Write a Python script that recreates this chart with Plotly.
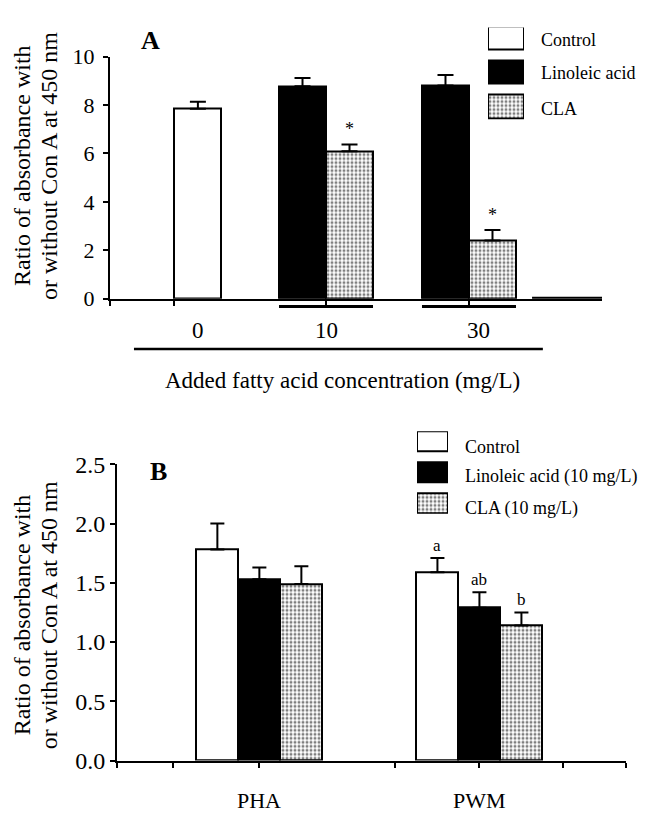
import plotly.graph_objects as go

# ---------------- data ----------------
# Panel A: concentration of added fatty acid (mg/L)
conc_labels = ["0", "10", "30"]
control_A = [7.85]
control_A_err = [0.28]
linoleic_A = [8.77, 8.81]
linoleic_A_err = [0.35, 0.43]
cla_A = [6.09, 2.40]
cla_A_err = [0.28, 0.44]
sig_A = ["*", "*"]
legend_A = ["Control", "Linoleic acid", "CLA"]

# Panel B: mitogens
mitogens = ["PHA", "PWM"]
control_B = [1.78, 1.59]
control_B_err = [0.22, 0.12]
linoleic_B = [1.53, 1.29]
linoleic_B_err = [0.10, 0.13]
cla_B = [1.49, 1.14]
cla_B_err = [0.15, 0.11]
letters_PWM = ["a", "ab", "b"]
legend_B = ["Control", "Linoleic acid (10 mg/L)", "CLA (10 mg/L)"]

y_title = ["Ratio of absorbance with", "or without Con A at 450 nm"]
x_title_A = "Added fatty acid concentration (mg/L)"

# ---------------- layout helpers ----------------
W, H = 645, 823
FONT = "Liberation Serif"


def px(x):
    return x / W


def py(y):
    return 1 - y / H


def marker(kind):
    line = dict(color="black", width=2)
    if kind == "control":
        return dict(color="white", line=line)
    if kind == "linoleic":
        return dict(color="black", line=line)
    return dict(color="white", line=line,
                pattern=dict(shape=".", fgcolor="black", bgcolor="white",
                             size=4, solidity=0.45))


def err(vals, w):
    return dict(type="data", array=vals, arrayminus=[0] * len(vals),
                symmetric=False, color="black", thickness=2, width=w)


def font(size):
    return dict(family=FONT, size=size, color="black")


# group positions (in bar-width units)
gA = [1.87, 4.596, 7.638]       # groups 0, 10, 30
xA_max = 10.468
gB = [3.39, 8.63]               # PHA, PWM
xB_max = 12.12

fig = go.Figure()

# ---- Panel A bars ----
fig.add_trace(go.Bar(x=[gA[0]], y=control_A, width=1.0, marker=marker("control"),
                     error_y=err(control_A_err, 8), xaxis="x", yaxis="y",
                     showlegend=False, cliponaxis=False))
fig.add_trace(go.Bar(x=[g - 0.5 for g in gA[1:]], y=linoleic_A, width=1.0,
                     marker=marker("linoleic"), error_y=err(linoleic_A_err, 8),
                     xaxis="x", yaxis="y", showlegend=False, cliponaxis=False))
fig.add_trace(go.Bar(x=[g + 0.5 for g in gA[1:]], y=cla_A, width=1.0,
                     marker=marker("cla"), error_y=err(cla_A_err, 8),
                     xaxis="x", yaxis="y", showlegend=False, cliponaxis=False))

# ---- Panel B bars ----
fig.add_trace(go.Bar(x=[g - 1 for g in gB], y=control_B, width=1.0, marker=marker("control"),
                     error_y=err(control_B_err, 7), xaxis="x2", yaxis="y2",
                     showlegend=False, cliponaxis=False))
fig.add_trace(go.Bar(x=gB, y=linoleic_B, width=1.0, marker=marker("linoleic"),
                     error_y=err(linoleic_B_err, 7), xaxis="x2", yaxis="y2",
                     showlegend=False, cliponaxis=False))
fig.add_trace(go.Bar(x=[g + 1 for g in gB], y=cla_B, width=1.0, marker=marker("cla"),
                     error_y=err(cla_B_err, 7), xaxis="x2", yaxis="y2",
                     showlegend=False, cliponaxis=False))

# ---- legend swatches (small hidden axes) ----
kinds = ["control", "linoleic", "cla"]
for i, k in enumerate(kinds):
    fig.add_trace(go.Bar(x=[1], y=[2 - i], base=0, orientation="h", width=0.68,
                         marker=marker(k), xaxis="x3", yaxis="y3",
                         showlegend=False, cliponaxis=False, hoverinfo="skip"))
    fig.add_trace(go.Bar(x=[1], y=[2 - i], base=0, orientation="h", width=0.66,
                         marker=marker(k), xaxis="x4", yaxis="y4",
                         showlegend=False, cliponaxis=False, hoverinfo="skip"))

axis_common = dict(showline=True, linecolor="black", linewidth=2, ticks="outside",
                   tickcolor="black", tickwidth=2, ticklen=5, showgrid=False,
                   zeroline=False, fixedrange=True)

fig.update_layout(
    width=W, height=H, autosize=False,
    margin=dict(l=0, r=0, t=0, b=0),
    paper_bgcolor="white", plot_bgcolor="rgba(0,0,0,0)",
    font=font(18),
    barmode="overlay", bargap=0,
    xaxis=dict(domain=[px(110), px(602)], range=[0, xA_max], anchor="y",
               tickmode="array", tickvals=[0, gA[0] - 0.5, gA[1], gA[2]],
               showticklabels=False, **axis_common),
    yaxis=dict(domain=[py(295), py(45)], range=[0, 10], anchor="x",
               tickmode="linear", tick0=0, dtick=2, tickfont=font(22),
               ticklabelstandoff=4, **axis_common),
    xaxis2=dict(domain=[px(117), px(626)], range=[0, xB_max], anchor="y2",
                tickmode="array",
                tickvals=[0, gB[0] - 2.05, gB[0], gB[1] - 2.0, gB[1], gB[1] + 2.0, xB_max - 0.001],
                showticklabels=False, **axis_common),
    yaxis2=dict(domain=[py(772), py(466)], range=[0, 2.5], anchor="x2",
                tickmode="linear", tick0=0, dtick=0.5, tickformat=".1f",
                tickfont=font(24), ticklabelstandoff=0, **axis_common),
    xaxis3=dict(domain=[px(488), px(524)], range=[0, 1], anchor="y3", visible=False,
                fixedrange=True),
    yaxis3=dict(domain=[py(110), py(15)], range=[-0.38, 2.31], anchor="x3", visible=False,
                fixedrange=True),
    xaxis4=dict(domain=[px(417), px(448)], range=[0, 1], anchor="y4", visible=False,
                fixedrange=True),
    yaxis4=dict(domain=[py(517), py(432)], range=[-0.33, 2.33], anchor="x4", visible=False,
                fixedrange=True),
)

ann = []
shapes = []


def label(text, x, y, size, xref="paper", yref="paper", xanchor="center",
          yanchor="middle", **kw):
    ann.append(dict(text=text, x=x, y=y, xref=xref, yref=yref, xanchor=xanchor,
                    yanchor=yanchor, showarrow=False, font=font(size), **kw))


# panel letters
label("<b>A</b>", px(150), py(28), 26)
label("<b>B</b>", px(158), py(473), 26)

# y-axis titles (two rotated lines per panel)
for yc in (158, 622):
    for line_txt, xc in zip(y_title, (22, 49)):
        label(line_txt, px(xc), py(yc), 24, textangle=-90)

# Panel A category labels and axis title
for lab, g, sh in zip(conc_labels, gA, (0, 0, 10)):
    label(lab, g, py(328), 23, xref="x", xshift=sh)
label(x_title_A, px(342), py(380), 23)

# significance stars panel A
for s, g, v, e in zip(sig_A, gA[1:], cla_A, cla_A_err):
    label(s, g + 0.5, v + e, 18, xref="x", yref="y", yanchor="bottom", yshift=3)

# letters panel B (PWM)
pwm_vals = [control_B[1] + control_B_err[1], linoleic_B[1] + linoleic_B_err[1],
            cla_B[1] + cla_B_err[1]]
for lt, off, v in zip(letters_PWM, (-1, 0, 1), pwm_vals):
    label(lt, gB[1] + off, v, 17, xref="x2", yref="y2", yanchor="bottom", yshift=1)

# Panel B category labels
for lab, g in zip(mitogens, gB):
    label(lab, g, py(813), 22, xref="x2")

# legend texts
for txt, yc in zip(legend_A, (28, 62, 99)):
    label(txt, px(539), py(yc), 18, xanchor="left")
for txt, yc in zip(legend_B, (448, 479, 512)):
    label(txt, px(463), py(yc), 18, xanchor="left")

# Panel A underlines and bracket lines
for g in gA[1:]:
    shapes.append(dict(type="line", xref="x", yref="paper", x0=g - 1.0, x1=g + 1.0,
                       y0=py(303), y1=py(303), line=dict(color="black", width=3)))
shapes.append(dict(type="line", xref="x", yref="paper", x0=0.51, x1=9.21,
                   y0=py(347), y1=py(347), line=dict(color="black", width=2.5)))
shapes.append(dict(type="line", xref="x", yref="y", x0=8.98, x1=xA_max, y0=0, y1=0,
                   line=dict(color="black", width=4)))

fig.update_layout(annotations=ann, shapes=shapes)

fig.write_html("out.html")
